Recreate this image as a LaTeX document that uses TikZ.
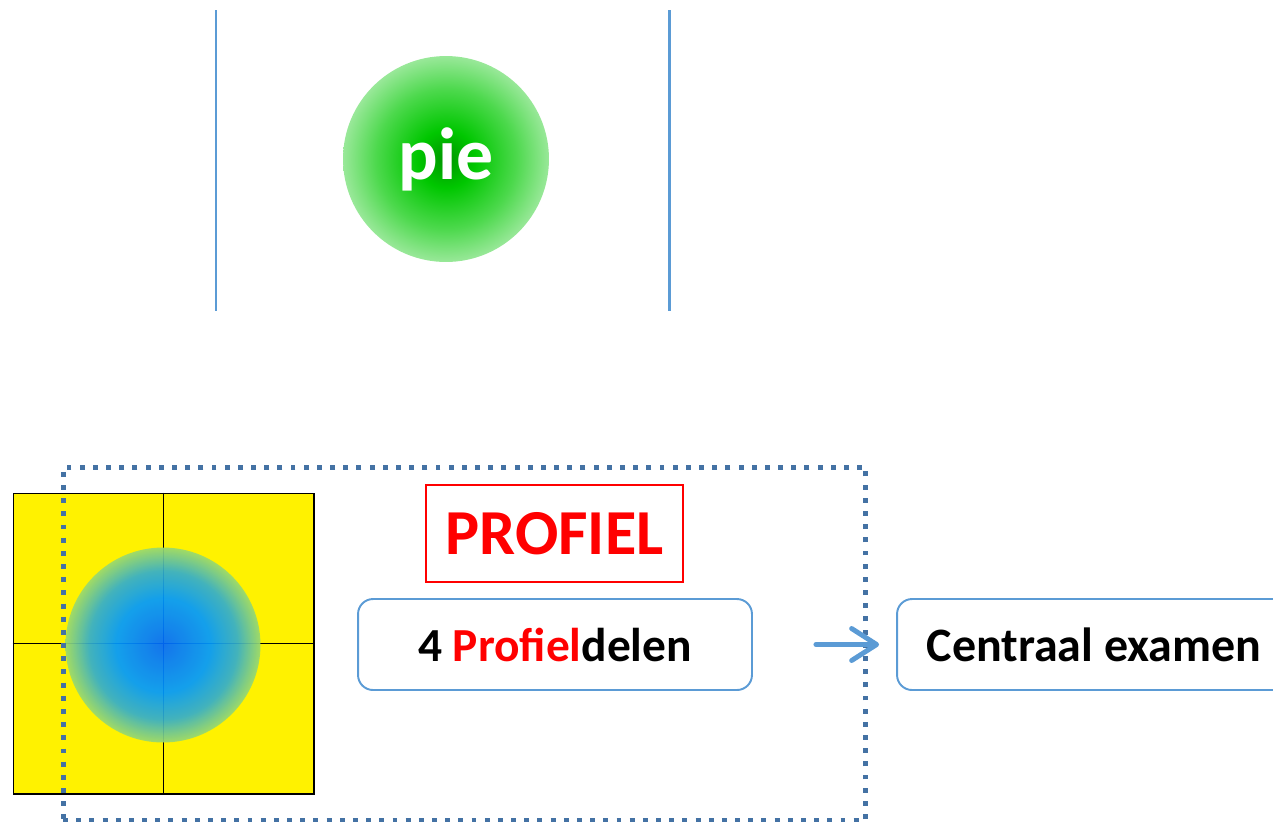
\documentclass[tikz,border=0pt]{standalone}
\usepackage{fontspec}
\setmainfont{Carlito}
\usetikzlibrary{positioning, arrows.meta}

\definecolor{lijnblauw}{RGB}{91,155,213}
\definecolor{stipblauw}{RGB}{68,114,164}
\pgfdeclareradialshading{groenbal}{\pgfpoint{0bp}{0bp}}{rgb(0bp)=(0,0.58,0); rgb(7bp)=(0,0.78,0); rgb(17bp)=(0.3,0.85,0.3); rgb(25bp)=(0.6,0.91,0.6); rgb(50bp)=(0.6,0.91,0.6)}
\pgfdeclareradialshading{blauwbal}{\pgfpoint{0bp}{0bp}}{rgb(0bp)=(0,0.42,1); rgb(12bp)=(0,0.6,1); rgb(19bp)=(0.2,0.68,0.8); rgb(25bp)=(0.6,0.85,0.43); rgb(50bp)=(0.6,0.85,0.43)}

\begin{document}
\begin{tikzpicture}[x=0.02cm, y=-0.02cm,
    lijn/.style={lijnblauw, line width=1.7pt},
    blok/.style={draw=lijnblauw, line width=1.1pt, rounded corners=0.3cm,
      minimum width=7.88cm, minimum height=1.82cm, font=\bfseries\fontsize{27}{31}\selectfont},
    pijl/.style={lijnblauw, line width=2.8pt, line cap=round,
      -{Straight Barb[length=0.5cm, width=0.64cm, round]}}]

  \useasboundingbox (0,0) rectangle (1273,823);
  \clip (0,0) rectangle (1273,823);

  % bovenste deel
  \coordinate (L1) at (216,10);  \coordinate (L2) at (216,311);
  \coordinate (R1) at (669,10);  \coordinate (R2) at (669,311);
  \draw[lijn] (L1) -- (L2);
  \draw[lijn] (R1) -- (R2);
  \node[circle, shading=groenbal, minimum size=4.12cm, text=white,
    font=\bfseries\fontsize{42}{48}\selectfont] (pie) at (446,159) {pie};

  % vierkant met bol
  \node[draw, fill=yellow, line width=0.6pt, minimum size=6.02cm] (vak) at (163.5,643.5) {};
  \draw[line width=0.6pt] (vak.north) -- (vak.south);
  \draw[line width=0.6pt] (vak.west) -- (vak.east);
  \node[circle, shading=blauwbal, opacity=0.92, minimum size=3.9cm] (bol) at (163,645) {};

  % profiel
  \node[draw=stipblauw, line width=2.8pt, dash pattern=on 2.8pt off 4.7pt,
    minimum width=16.06cm, minimum height=7.06cm] (kader) at (464.5,643.5) {};
  \node[draw=red, line width=0.8pt, minimum width=5.14cm, minimum height=1.94cm,
    text=red, font=\bfseries\fontsize{36.5}{42}\selectfont] (profiel) at (554.5,533.5) {PROFIEL};
  \node[blok] (delen) at (555,644.5) {4 \textcolor{red}{Profiel}delen};
  \node[blok, font=\bfseries\fontsize{27.3}{31}\selectfont] (examen) at (1094,644.5) {Centraal examen};
  \draw[pijl, shorten <=1.26cm, shorten >=0.34cm] (delen) -- (examen);
\end{tikzpicture}
\end{document}
